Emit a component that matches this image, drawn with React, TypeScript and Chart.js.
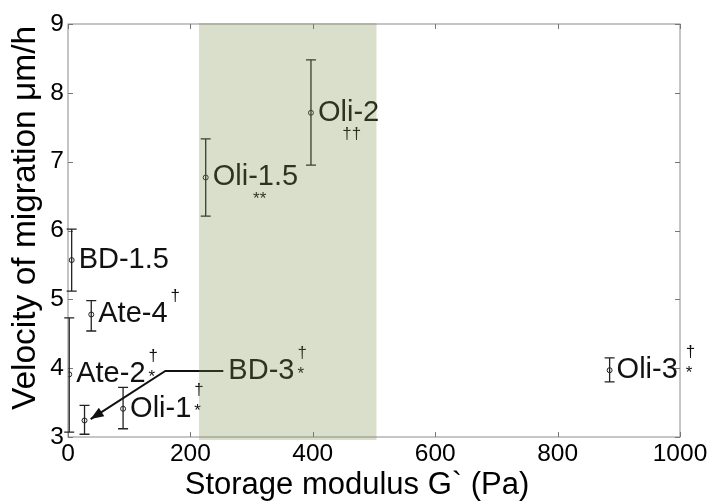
import React, { useEffect, useRef } from "react";
import { Chart, registerables } from "chart.js";

Chart.register(...registerables);

const sampleNames = ["BD-1.5", "Ate-4", "Ate-2", "BD-3", "Oli-1", "Oli-1.5", "Oli-2", "Oli-3"];
const storageModulus = [6, 38, 2, 27, 90, 225, 397, 885];
const velocity = [5.57, 4.78, 3.91, 3.24, 3.41, 6.77, 7.71, 3.97];
const errLow = [5.12, 4.54, 3.07, 3.04, 3.12, 6.21, 6.95, 3.8];
const errHigh = [6.02, 4.98, 4.73, 3.46, 3.72, 7.33, 8.48, 4.15];
// significance marks: superscript / subscript beside label, or mark below label
const supMarks = ["", "†", "†", "†", "†", "", "", "†"];
const subMarks = ["", "", "*", "*", "*", "", "", "*"];
const belowMarks = ["", "", "", "", "", "**", "††", ""];

const xTicks = [0, 200, 400, 600, 800, 1000];
const yTicks = [3, 4, 5, 6, 7, 8, 9];
const bandRange = [214, 504];
// BD-3 callout: label anchor, elbow, arrow tip (data coords)
const bd3Label = { x: 262, y: 3.96 };
const bd3Elbow = { x: 159, y: 3.96 };
const bd3Tip = { x: 37, y: 3.26 };

const FONT = "'Liberation Sans', Arial, sans-serif";

export default function App() {
  const ref = useRef<HTMLCanvasElement | null>(null);
  useEffect(() => {
    const canvas = ref.current!;
    const overlay = {
      id: "overlay",
      afterDatasetsDraw(chart: any) {
        const ctx = chart.ctx as CanvasRenderingContext2D;
        const xs = chart.scales.x;
        const ys = chart.scales.y;
        const a = chart.chartArea;
        ctx.save();
        // box
        ctx.strokeStyle = "#8c8c8c";
        ctx.lineWidth = 1;
        ctx.strokeRect(a.left, a.top, a.right - a.left, a.bottom - a.top);
        // inward ticks
        ctx.strokeStyle = "#777";
        ctx.beginPath();
        xTicks.forEach((t) => {
          const px = Math.round(xs.getPixelForValue(t)) + 0.5;
          ctx.moveTo(px, a.bottom);
          ctx.lineTo(px, a.bottom - 5);
          ctx.moveTo(px, a.top);
          ctx.lineTo(px, a.top + 5);
        });
        yTicks.forEach((t) => {
          const py = Math.round(ys.getPixelForValue(t)) + 0.5;
          ctx.moveTo(a.left, py);
          ctx.lineTo(a.left + 5, py);
          ctx.moveTo(a.right, py);
          ctx.lineTo(a.right - 5, py);
        });
        ctx.stroke();
        // error bars
        ctx.strokeStyle = "#222";
        ctx.lineWidth = 1.3;
        ctx.beginPath();
        storageModulus.forEach((m, i) => {
          const px = xs.getPixelForValue(m);
          const lo = ys.getPixelForValue(errLow[i]);
          const hi = ys.getPixelForValue(errHigh[i]);
          ctx.moveTo(px, lo);
          ctx.lineTo(px, hi);
          ctx.moveTo(px - 5, lo);
          ctx.lineTo(px + 5, lo);
          ctx.moveTo(px - 5, hi);
          ctx.lineTo(px + 5, hi);
        });
        ctx.stroke();
        // labels
        ctx.fillStyle = "#111";
        ctx.textBaseline = "middle";
        ctx.textAlign = "left";
        storageModulus.forEach((m, i) => {
          const px = xs.getPixelForValue(m);
          const py = ys.getPixelForValue(velocity[i]);
          let lx = px + 7;
          let ly = py;
          if (sampleNames[i] === "BD-3") {
            lx = xs.getPixelForValue(bd3Label.x);
            ly = ys.getPixelForValue(bd3Label.y);
          }
          ctx.font = `29px ${FONT}`;
          ctx.fillText(sampleNames[i], lx, ly);
          const w = ctx.measureText(sampleNames[i]).width;
          ctx.font = `17px ${FONT}`;
          const gap = sampleNames[i] === "Oli-3" ? 8 : 3;
          if (supMarks[i]) ctx.fillText(supMarks[i], lx + w + gap, ly - 18);
          if (subMarks[i]) ctx.fillText(subMarks[i], lx + w + gap, ly + 3);
          if (belowMarks[i]) {
            ctx.textAlign = "center";
            ctx.fillText(belowMarks[i], lx + w * 0.55, ly + 22);
            ctx.textAlign = "left";
          }
        });
        // BD-3 callout arrow
        const lx0 = xs.getPixelForValue(bd3Label.x) - 5;
        const ly0 = ys.getPixelForValue(bd3Label.y);
        const ex = xs.getPixelForValue(bd3Elbow.x);
        const ey = ys.getPixelForValue(bd3Elbow.y);
        const tx = xs.getPixelForValue(bd3Tip.x);
        const ty = ys.getPixelForValue(bd3Tip.y);
        ctx.strokeStyle = "#111";
        ctx.lineWidth = 2;
        ctx.beginPath();
        ctx.moveTo(lx0, ly0);
        ctx.lineTo(ex, ey);
        ctx.lineTo(tx, ty);
        ctx.stroke();
        const ang = Math.atan2(ty - ey, tx - ex);
        const L = 13, W = 5;
        ctx.fillStyle = "#111";
        ctx.beginPath();
        ctx.moveTo(tx, ty);
        ctx.lineTo(tx - L * Math.cos(ang) + W * Math.sin(ang), ty - L * Math.sin(ang) - W * Math.cos(ang));
        ctx.lineTo(tx - L * Math.cos(ang) - W * Math.sin(ang), ty - L * Math.sin(ang) + W * Math.cos(ang));
        ctx.closePath();
        ctx.fill();
        // axis titles
        ctx.fillStyle = "#000";
        ctx.textAlign = "center";
        ctx.textBaseline = "middle";
        ctx.font = `31px ${FONT}`;
        ctx.fillText("Storage modulus G` (Pa)", 357, 485);
        ctx.save();
        ctx.translate(26, 218);
        ctx.rotate(-Math.PI / 2);
        ctx.font = `33.5px ${FONT}`;
        ctx.fillText("Velocity of migration μm/h", 0, 0);
        ctx.restore();
        ctx.restore();
      },
      afterDraw(chart: any) {
        const ctx = chart.ctx as CanvasRenderingContext2D;
        const xs = chart.scales.x;
        const a = chart.chartArea;
        const x0 = xs.getPixelForValue(bandRange[0]);
        const x1 = xs.getPixelForValue(bandRange[1]);
        ctx.save();
        ctx.fillStyle = "rgba(120,140,70,0.28)";
        ctx.fillRect(x0, a.top - 1, x1 - x0, a.bottom - a.top + 4);
        ctx.restore();
      },
    };
    const chart = new Chart(canvas, {
      type: "scatter",
      data: {
        datasets: [
          {
            data: storageModulus.map((m, i) => ({ x: m, y: velocity[i] })),
            pointRadius: 2.5,
            pointBorderWidth: 1,
            borderColor: "#222",
            backgroundColor: "rgba(0,0,0,0)",
          },
        ],
      },
      options: {
        animation: false,
        responsive: false,
        maintainAspectRatio: false,
        layout: { padding: { left: 0, right: 34, top: 24, bottom: 0 } },
        plugins: { legend: { display: false }, tooltip: { enabled: false } },
        scales: {
          x: {
            type: "linear",
            min: 0,
            max: 1000,
            afterBuildTicks: (s: any) => {
              s.ticks = xTicks.map((v) => ({ value: v }));
            },
            afterFit: (s: any) => {
              s.height = 67;
            },
            ticks: {
              font: { size: 24.5, family: FONT },
              color: "#000",
              padding: 3,
              maxRotation: 0,
              callback: (v: any) => String(v),
            },
            grid: { display: false, drawTicks: false },
            border: { display: false },
          },
          y: {
            type: "linear",
            min: 3,
            max: 9,
            afterBuildTicks: (s: any) => {
              s.ticks = yTicks.map((v) => ({ value: v }));
            },
            afterFit: (s: any) => {
              s.width = 68;
            },
            ticks: {
              font: { size: 24.5, family: FONT },
              color: "#000",
              padding: 4,
              callback: (v: any) => String(v),
            },
            grid: { display: false, drawTicks: false },
            border: { display: false },
          },
        },
      },
      plugins: [overlay],
    });
    return () => chart.destroy();
  }, []);
  return (
    <div style={{ position: "fixed", left: 0, top: 0, width: 714, height: 504, background: "#fff" }}>
      <canvas ref={ref} width={714} height={504} style={{ width: 714, height: 504 }} />
    </div>
  );
}
